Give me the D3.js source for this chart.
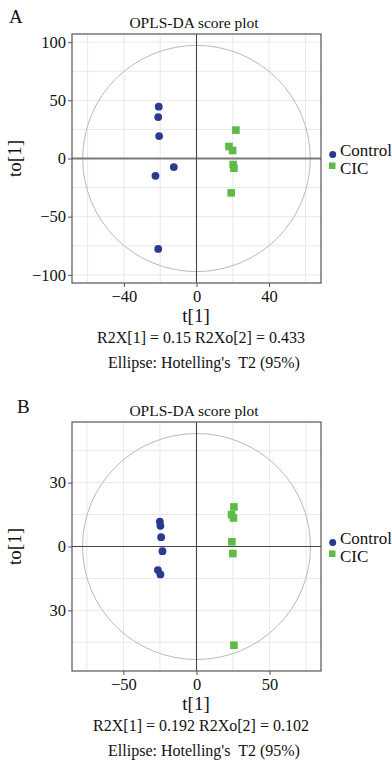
<!DOCTYPE html>
<html><head><meta charset="utf-8">
<script src="https://cdn.jsdelivr.net/npm/d3@7"></script>
<style>
html,body{margin:0;padding:0;background:#fff;}
svg text{font-family:"Liberation Serif","Times New Roman",serif !important;fill:#111;}
</style></head>
<body>
<svg id="chart" width="392" height="764"></svg>
<script>
// ---- data ----
const panelLabels = ["A", "B"];
const groups = ["Control", "CIC"];
const chartTitle = "OPLS-DA score plot";
const xAxisLabel = "t[1]";
const yAxisLabel = "to[1]";
const statLines = ["R2X[1] = 0.15 R2Xo[2] = 0.433", "R2X[1] = 0.192 R2Xo[2] = 0.102"];
const ellipseNote = "Ellipse: Hotelling's  T2 (95%)";

// Panel A
const aControlT  = [-20.8, -21.1, -20.6, -12.5, -22.6, -21.1];
const aControlTo = [44.5, 35.6, 19.3, -7.4, -14.9, -77.7];
const aCicT  = [21.7, 17.9, 19.9, 20.2, 20.6, 19.1];
const aCicTo = [24.4, 10.3, 6.9, -5.2, -8.3, -29.5];
const aXTicks = [-40, 0, 40];
const aXTickLabels = ["\u221240", "0", "40"];
const aYTicks = [-100, -50, 0, 50, 100];
const aYTickLabels = ["\u2212100", "\u221250", "0", "50", "100"];
const aXGrid = [-60, -40, -20, 0, 20, 40, 60];
const aYGrid = [-100, -75, -50, -25, 0, 25, 50, 75, 100];
const aXDomain = [-68.6, 68.6];
const aYDomain = [-107, 107];
const aEllipse = [62.7, 97.2];

// Panel B
const bControlT  = [-25.1, -24.7, -24.2, -23.3, -26.4, -24.7];
const bControlTo = [11.7, 9.7, 4.4, -2.2, -11.1, -13.1];
const bCicT  = [25.6, 24.0, 25.3, 24.2, 24.9, 25.6];
const bCicTo = [18.6, 15.0, 13.4, 2.2, -3.3, -46.4];
const bXTicks = [-50, 0, 50];
const bXTickLabels = ["\u221250", "0", "50"];
const bYTicks = [-30, 0, 30];
const bYTickLabels = ["30", "0", "30"];
const bXGrid = [-75, -50, -25, 0, 25, 50, 75];
const bYGrid = [-45, -30, -15, 0, 15, 30, 45];
const bXDomain = [-85.2, 85.2];
const bYDomain = [-58.5, 58.5];
const bEllipse = [78, 53.1];

const navy = "#2b3990";
const green = "#5dbb46";
const serif = "'Liberation Serif','Times New Roman',serif";

const svg = d3.select("#chart");

function drawPanel(o) {
  const g = svg.append("g").style("font-family", serif);
  const left = 72, right = 321, top = o.top, bottom = o.top + 249;
  const x = d3.scaleLinear().domain(o.xDomain).range([left, right]);
  const y = d3.scaleLinear().domain(o.yDomain).range([bottom, top]);

  // panel letter
  g.append("text").attr("x", o.letterX).attr("y", o.letterY)
    .attr("font-size", 19).text(o.letter);
  // title
  g.append("text").attr("x", 194).attr("y", top - 6).attr("text-anchor", "middle")
    .attr("font-size", 15.5).text(chartTitle);

  // grid
  g.append("g").selectAll("line").data(o.xGrid).join("line")
    .attr("x1", d => x(d)).attr("x2", d => x(d)).attr("y1", top).attr("y2", bottom)
    .attr("stroke", "#e8e8e8").attr("stroke-width", 1);
  g.append("g").selectAll("line").data(o.yGrid).join("line")
    .attr("y1", d => y(d)).attr("y2", d => y(d)).attr("x1", left).attr("x2", right)
    .attr("stroke", "#e8e8e8").attr("stroke-width", 1);

  // ellipse
  g.append("ellipse").attr("cx", x(0)).attr("cy", y(0))
    .attr("rx", x(o.ellipse[0]) - x(0)).attr("ry", y(0) - y(o.ellipse[1]))
    .attr("fill", "none").attr("stroke", "#b9b9b9").attr("stroke-width", 1);

  // zero lines
  g.append("line").attr("x1", left).attr("x2", right).attr("y1", y(0)).attr("y2", y(0))
    .attr("stroke", o.hZeroColor).attr("stroke-width", o.hZeroWidth);
  g.append("line").attr("x1", x(0)).attr("x2", x(0)).attr("y1", top).attr("y2", bottom)
    .attr("stroke", "#444").attr("stroke-width", 1.1);

  // frame
  g.append("rect").attr("x", left).attr("y", top).attr("width", right - left).attr("height", bottom - top)
    .attr("fill", "none").attr("stroke", "#555").attr("stroke-width", 1.2);

  // axes
  const xAxis = d3.axisBottom(x).tickValues(o.xTicks).tickSize(4).tickPadding(3)
    .tickFormat((d, i) => o.xTickLabels[i]);
  const gx = g.append("g").attr("transform", `translate(0,${bottom})`).call(xAxis);
  const yAxis = d3.axisLeft(y).tickValues(o.yTicks).tickSize(4).tickPadding(2)
    .tickFormat((d, i) => o.yTickLabels[i]);
  const gy = g.append("g").attr("transform", `translate(${left},0)`).call(yAxis);
  [gx, gy].forEach(a => {
    a.attr("font-family", null).attr("font-size", null).style("font-family", serif);
    a.select(".domain").remove();
    a.selectAll(".tick line").attr("stroke", "#555");
    a.selectAll(".tick text").style("font-family", serif).attr("font-size", 16.5).attr("fill", "#111");
  });

  // axis labels
  g.append("text").attr("x", 196).attr("y", bottom + 39).attr("text-anchor", "middle")
    .attr("font-size", 19).text(xAxisLabel);
  g.append("text").attr("transform", `translate(21,${(top + bottom) / 2}) rotate(-90)`)
    .attr("text-anchor", "middle").attr("font-size", 19).text(yAxisLabel);

  // stats
  g.append("text").attr("x", 201).attr("y", bottom + 60).attr("text-anchor", "middle")
    .attr("font-size", 16).text(o.stat);
  g.append("text").attr("x", 204).attr("y", bottom + 85).attr("text-anchor", "middle")
    .attr("font-size", 16).attr("style", "white-space:pre").text(ellipseNote);

  // points
  const ctrl = o.ctrlT.map((t, i) => ({ t, to: o.ctrlTo[i] }));
  const cic = o.cicT.map((t, i) => ({ t, to: o.cicTo[i] }));
  g.append("g").selectAll("circle").data(ctrl).join("circle")
    .attr("cx", d => x(d.t)).attr("cy", d => y(d.to)).attr("r", 3.9).attr("fill", navy);
  const s = 7.6;
  g.append("g").selectAll("rect").data(cic).join("rect")
    .attr("x", d => x(d.t) - s / 2).attr("y", d => y(d.to) - s / 2)
    .attr("width", s).attr("height", s).attr("fill", green);

  // legend
  const ly = y(0);
  const lg = g.append("g");
  lg.append("circle").attr("cx", 332.7).attr("cy", ly - 4).attr("r", 3.5).attr("fill", navy);
  lg.append("text").attr("x", 340).attr("y", ly - 3).attr("font-size", 17).text(groups[0]);
  lg.append("rect").attr("x", 329).attr("y", ly + 4).attr("width", 6.5).attr("height", 6.5).attr("fill", green);
  lg.append("text").attr("x", 340).attr("y", ly + 15).attr("font-size", 17).text(groups[1]);
}

drawPanel({
  letter: panelLabels[0], letterX: 9, letterY: 23, top: 34,
  xDomain: aXDomain, yDomain: aYDomain, xTicks: aXTicks, xTickLabels: aXTickLabels,
  yTicks: aYTicks, yTickLabels: aYTickLabels, xGrid: aXGrid, yGrid: aYGrid,
  ellipse: aEllipse, ctrlT: aControlT, ctrlTo: aControlTo, cicT: aCicT, cicTo: aCicTo,
  stat: statLines[0], hZeroColor: "#7a7a7a", hZeroWidth: 2
});
drawPanel({
  letter: panelLabels[1], letterX: 17, letterY: 413, top: 422,
  xDomain: bXDomain, yDomain: bYDomain, xTicks: bXTicks, xTickLabels: bXTickLabels,
  yTicks: bYTicks, yTickLabels: bYTickLabels, xGrid: bXGrid, yGrid: bYGrid,
  ellipse: bEllipse, ctrlT: bControlT, ctrlTo: bControlTo, cicT: bCicT, cicTo: bCicTo,
  stat: statLines[1], hZeroColor: "#444", hZeroWidth: 1.1
});
</script>
</body></html>
